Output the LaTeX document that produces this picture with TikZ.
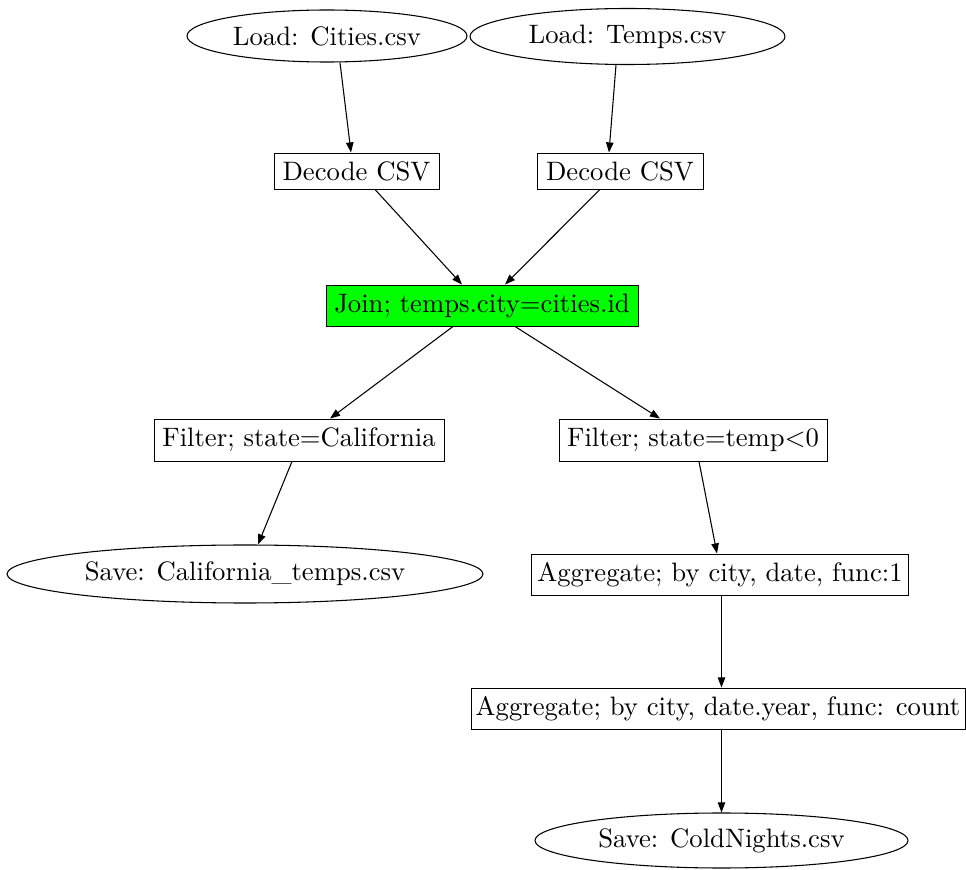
\documentclass[tikz,border=0pt]{standalone}
\usetikzlibrary{arrows.meta,calc,shapes.geometric}
\definecolor{joingreen}{RGB}{0,255,0}
\begin{document}
\begin{tikzpicture}[x=0.375pt,y=-0.375pt,
  box/.style 2 args={draw, rectangle, inner sep=0pt, line width=0.35pt,
    minimum width=#1*0.375pt, minimum height=#2*0.375pt},
  oval/.style 2 args={draw, ellipse, inner sep=0pt, line width=0.4pt,
    minimum width=#1*0.375pt, minimum height=#2*0.375pt},
  flow/.style={line width=0.4pt, -{Triangle[length=3.8pt,width=2.8pt]}},
]
\useasboundingbox (0,0) rectangle (966,870);

% sources
\node[oval={280}{52}] (cities) at (327,36) {Load: Cities.csv};
\node[oval={315}{56}] (temps)  at (627.5,36.5) {Load: Temps.csv};

% parsing
\node[box={165}{36}] (decL) at (356.5,171) {Decode CSV};
\node[box={166}{36}] (decR) at (620,171) {Decode CSV};

% join
\node[box={312}{41}, fill=joingreen] (join) at (482,305.5) {Join; temps.city=cities.id};

% filters
\node[box={290}{42}] (fcal)  at (299,440) {Filter; state=California};
\node[box={268}{42}] (ftemp) at (693,440) {Filter; state=temp<0};

% outputs and aggregation
\node[oval={476}{58}] (savecal) at (245,574) {Save: California\_temps.csv};
\node[box={377}{41}] (agg1) at (720,574.5) {Aggregate; by city, date, func:1};
\node[box={494}{41}] (agg2) at (718,708.5) {Aggregate; by city, date.year, func: count};
\node[oval={373}{55}] (savecold) at (721.5,840.5) {Save: ColdNights.csv};

% connectors
\draw[flow] ($(cities.south)+(13,0)$) -- ($(decL.north)+(-5.5,0)$);
\draw[flow] ($(temps.south)+(-11.5,0)$) -- ($(decR.north)+(-11,0)$);
\draw[flow] ($(decL.south)+(18.5,0)$) -- ($(join.north)+(-20,0)$);
\draw[flow] ($(decR.south)+(-20,0)$) -- ($(join.north)+(23,0)$);
\draw[flow] ($(join.south)+(-29,0)$) -- ($(fcal.north)+(31,0)$);
\draw[flow] ($(join.south)+(33,0)$) -- ($(ftemp.north)+(-33,0)$);
\draw[flow] ($(fcal.south)+(-7,0)$) -- ($(savecal.north)+(13,0)$);
\draw[flow] ($(ftemp.south)+(6,0)$) -- ($(agg1.north)+(-3,0)$);
\coordinate (agg1out) at ($(agg1.south)+(1.5,0)$);
\draw[flow] (agg1out) -- (agg1out |- agg2.north);
\draw[flow] (agg2.south -| savecold.north) -- (savecold.north);
\end{tikzpicture}
\end{document}
